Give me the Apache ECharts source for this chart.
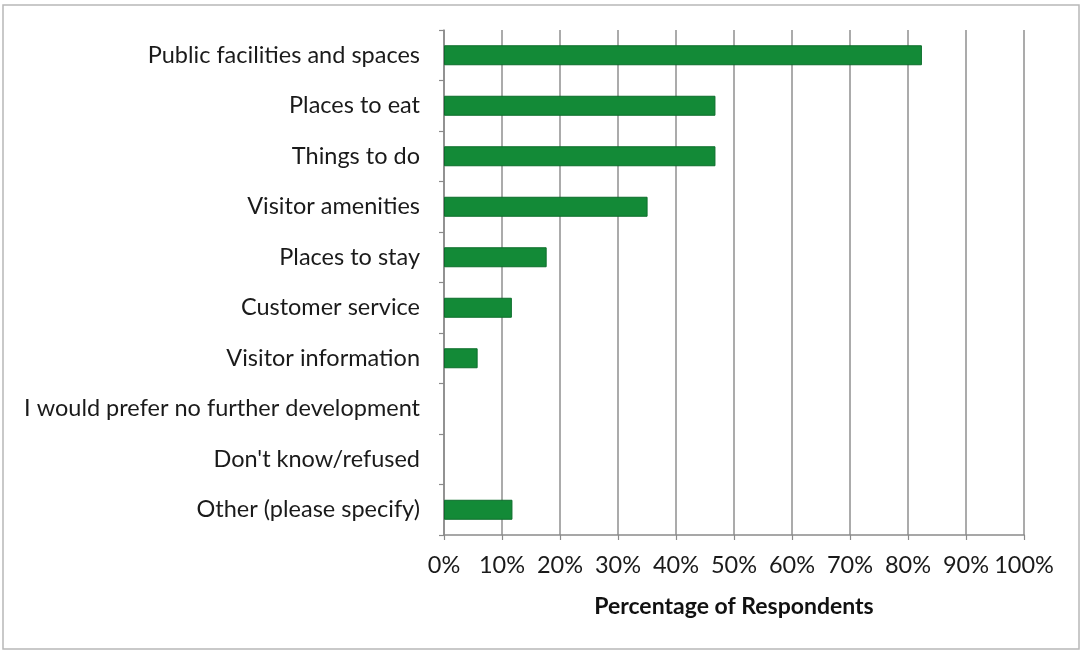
<!DOCTYPE html>
<html>
<head>
<meta charset="utf-8">
<style>
  html, body { margin: 0; padding: 0; background: #fff; }
  #chart { width: 1081px; height: 652px; }
</style>
<script src="https://cdn.jsdelivr.net/npm/echarts@6/dist/echarts.min.js"></script>
</head>
<body>
<div id="chart"></div>
<script>
// Survey answers, listed top to bottom
const categories = [
  'Public facilities and spaces',
  'Places to eat',
  'Things to do',
  'Visitor amenities',
  'Places to stay',
  'Customer service',
  'Visitor information',
  'I would prefer no further development',
  "Don't know/refused",
  'Other (please specify)'
];
// Share of respondents choosing each answer (%)
const percentages = [82.4, 46.8, 46.8, 35.1, 17.7, 11.7, 5.8, 0, 0, 11.8];
const tickLabels = ['0%', '10%', '20%', '30%', '40%', '50%', '60%', '70%', '80%', '90%', '100%'];
const axisTitle = 'Percentage of Respondents';

const chart = echarts.init(document.getElementById('chart'), null, { renderer: 'canvas' });
const font = 'Lato, "Open Sans", sans-serif';

// Zero-valued answers get no outline so nothing is drawn for them
const barData = percentages.map((v) =>
  v === 0 ? { value: v, itemStyle: { borderWidth: 0, opacity: 0 } } : v
);

chart.setOption({
  animation: false,
  backgroundColor: '#fff',
  grid: { left: 444, right: 57, top: 30, bottom: 117, containLabel: false },
  xAxis: {
    type: 'value',
    min: 0,
    max: 100,
    interval: 10,
    name: axisTitle,
    nameLocation: 'middle',
    nameGap: 60,
    nameTextStyle: { fontFamily: font, fontSize: 23, fontWeight: 'bold', color: '#111' },
    axisLine: { show: true, lineStyle: { color: '#8a8a8a', width: 1.5 } },
    axisTick: { show: true, length: 5, lineStyle: { color: '#8a8a8a', width: 1.2 } },
    axisLabel: {
      margin: 18,
      fontFamily: font,
      fontSize: 23.5,
      color: '#1a1a1a',
      formatter: (v) => tickLabels[Math.round(v / 10)]
    },
    splitLine: { show: true, lineStyle: { color: '#8f8f8f', width: 1.5 } }
  },
  yAxis: {
    type: 'category',
    data: categories,
    inverse: true,
    axisLine: { show: true, lineStyle: { color: '#8a8a8a', width: 1.5 } },
    axisTick: { show: true, length: 5, lineStyle: { color: '#8a8a8a', width: 1.2 } },
    axisLabel: { margin: 24, fontFamily: font, fontSize: 23.5, color: '#1a1a1a' },
    splitLine: { show: false }
  },
  series: [{
    type: 'bar',
    data: barData,
    barWidth: 20,
    itemStyle: { color: '#138a37', borderColor: '#0c6e2b', borderWidth: 1 },
    silent: true
  }],
  graphic: [{
    type: 'rect',
    shape: { x: 3, y: 5, width: 1076, height: 644 },
    style: { fill: 'none', stroke: '#b8b8b8', lineWidth: 1.5 },
    silent: true
  }]
});
</script>
</body>
</html>
